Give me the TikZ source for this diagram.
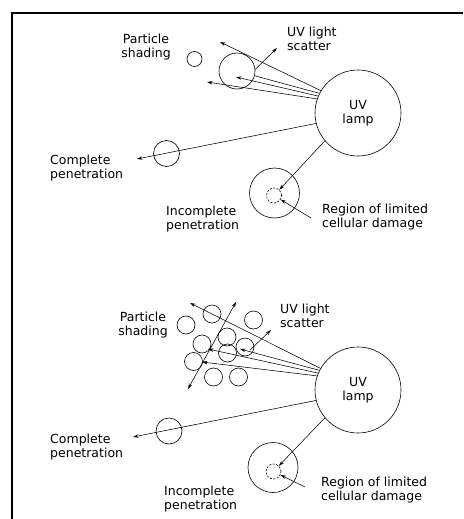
\documentclass[tikz,border=0pt]{standalone}
\usepackage{fontspec}
\setmainfont{DejaVu Sans}
\usetikzlibrary{arrows.meta}

\begin{document}
\begin{tikzpicture}[x=1pt, y=-1pt,
    >={Stealth[length=5.5pt,width=3.4pt]},
    txt/.style={inner sep=0pt, align=left, font=\fontsize{12.5}{13.8}\selectfont},
    lamp/.style={draw, circle, minimum size=86pt, inner sep=0pt, align=center, line width=0.6pt, font=\fontsize{12.5}{13.8}\selectfont},
    grain/.style={draw, circle, inner sep=0pt, line width=0.6pt},
    hurt/.style={grain, dash pattern=on 2pt off 1.5pt},
    ray/.style={line width=0.55pt}]
                        \useasboundingbox (0,0) rectangle (463,519);
                        \draw[line width=1.6pt] (12,519) -- (12,13) -- (463,13);

                        \begin{scope}[shift={(0,0)}]
                            \node[lamp] (lamp0) at (358,113) {UV\\lamp};
                            \node[grain, minimum size=15pt] (pa0) at (194.5,59) {};
                            \node[grain, minimum size=36pt] (pb0) at (237,71) {};
                            \node[grain, minimum size=26pt] (cp0) at (166.5,153.5) {};
                            \node[grain, minimum size=50pt] (ip0) at (274.5,193) {};
                            \node[hurt, minimum size=15pt] (dm0) at (274,195.5) {};
                            \node[txt, align=center, anchor=north] (ps0) at (146,34) {Particle\\shading};
                            \node[txt, anchor=north west] (sc0) at (287,27) {UV light\\scatter};
                            \node[txt, anchor=north west] (cpl0) at (50,155) {Complete\\penetration};
                            \node[txt, anchor=north west] (ipl0) at (166,206) {Incomplete\\penetration};
                            \node[txt, anchor=north west] (rgl0) at (322,204) {Region of limited\\cellular damage};
                            \coordinate (ta0) at (220,42);
                            \coordinate (tc0) at (236,77);
                            \coordinate (td0) at (207,82);
                            \coordinate (ts0) at (277,48);
                            \coordinate (tcp0) at (137,159);
                            \coordinate (rs0) at (311,218);
                            \draw[ray]
                            (lamp0.149) edge[->] (ta0)
                            (lamp0.153) edge (pb0)
                            (pb0.5) edge[->] (ts0)
                            (lamp0.157) edge[->] (tc0)
                            (lamp0.161) edge[->] (td0)
                            (lamp0.194) edge[->] (tcp0)
                            (lamp0.220) edge[->] (dm0)
                            (rs0) edge[->] (dm0);
                        \end{scope}

                        \begin{scope}[shift={(0,277)}]
                            \node[lamp] (lamp1) at (358,113) {UV\\lamp};
                            \node[grain, minimum size=18pt] (p1) at (212,37) {};
                            \node[grain, minimum size=18pt] (p2) at (186,48) {};
                            \node[grain, minimum size=18pt] (p3) at (253.5,43) {};
                            \node[grain, minimum size=18pt] (p4) at (227,60) {};
                            \node[grain, minimum size=18pt] (p5) at (202,67) {};
                            \node[grain, minimum size=18pt] (p6) at (245,70) {};
                            \node[grain, minimum size=18pt] (p7) at (227.5,76) {};
                            \node[grain, minimum size=18pt] (p8) at (193.5,84.5) {};
                            \node[grain, minimum size=18pt] (p9) at (213.5,100) {};
                            \node[grain, minimum size=18pt] (p10) at (238.5,100) {};
                            \node[grain, minimum size=26pt] (cp1) at (169,154) {};
                            \node[grain, minimum size=50pt] (ip1) at (273,190.5) {};
                            \node[hurt, minimum size=15pt] (dm1) at (273.5,194.5) {};
                            \node[txt, align=center, anchor=north] (ps1) at (143,35) {Particle\\shading};
                            \node[txt, anchor=north west] (sc1) at (280,27) {UV light\\scatter};
                            \node[txt, anchor=north west] (cpl1) at (50,157) {Complete\\penetration};
                            \node[txt, anchor=north west] (ipl1) at (164,209) {Incomplete\\penetration};
                            \node[txt, anchor=north west] (rgl1) at (321,200) {Region of limited\\cellular damage};
                            \coordinate (ta1) at (190,26);
                            \coordinate (tb1) at (240,72);
                            \coordinate (tc1) at (208,72);
                            \coordinate (td1) at (202,85);
                            \coordinate (up1) at (236,25);
                            \coordinate (dn1) at (188,112);
                            \coordinate (ss1) at (250,73);
                            \coordinate (ts1) at (271,53);
                            \coordinate (tcp1) at (133,160);
                            \coordinate (rs1) at (305,210);
                            \draw[ray]
                            (lamp1.150) edge[->] (ta1)
                            (lamp1.153) edge[->] (tb1)
                            (lamp1.157) edge[->] (tc1)
                            (lamp1.161) edge[->] (td1)
                            (dn1) edge[<->] (up1)
                            (ss1) edge[->] (ts1)
                            (lamp1.194) edge[->] (tcp1)
                            (lamp1.220) edge[->] (dm1)
                            (rs1) edge[->] (dm1);
                        \end{scope}
\end{tikzpicture}
\end{document}
